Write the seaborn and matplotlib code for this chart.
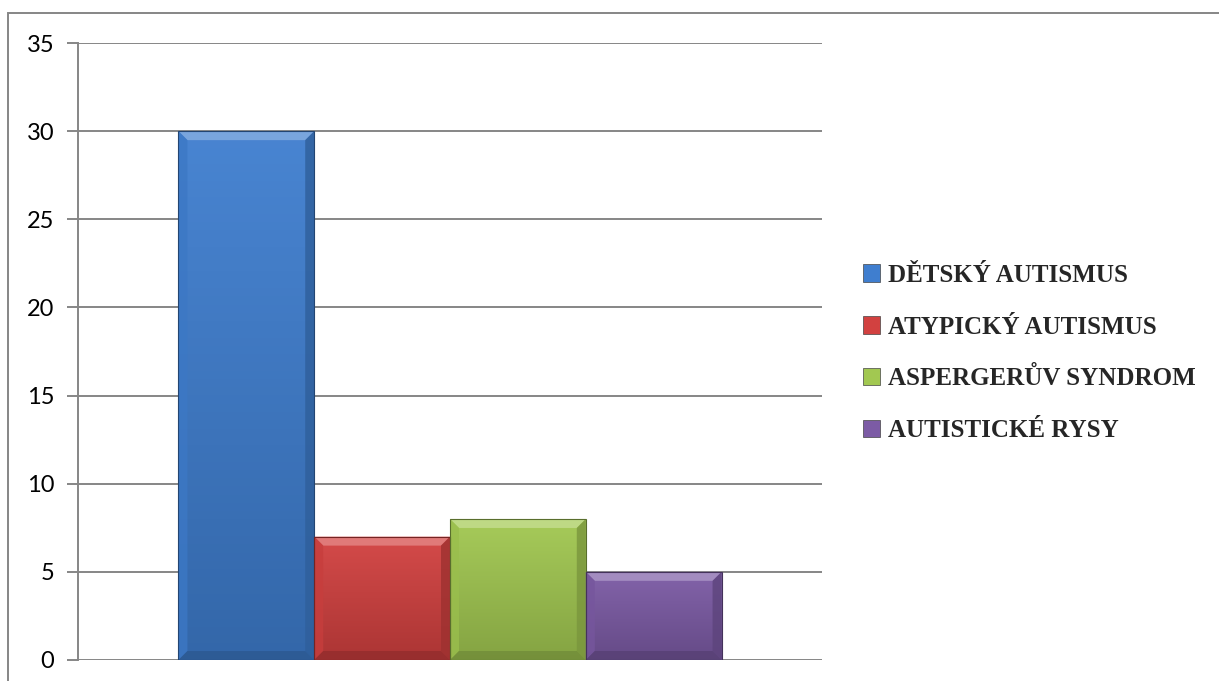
import numpy as np
import pandas as pd
import matplotlib
matplotlib.use("Agg")
import matplotlib.pyplot as plt
from matplotlib.patches import Rectangle, Polygon
from matplotlib.colors import to_rgb
import seaborn as sns

# Diagnoses and counts
diagnoses = ["DĚTSKÝ AUTISMUS", "ATYPICKÝ AUTISMUS", "ASPERGERŮV SYNDROM", "AUTISTICKÉ RYSY"]
counts = [30, 7, 8, 5]
colors = ["#3F7ECF", "#D24140", "#A2C851", "#7C5BA5"]
yticks = [0, 5, 10, 15, 20, 25, 30, 35]

df = pd.DataFrame({"group": [""] * len(diagnoses), "diagnoza": diagnoses, "pocet": counts})

sns.set_theme(style="white")
plt.rcParams["font.family"] = ["Lato", "DejaVu Sans"]

W, H = 1219, 681
fig = plt.figure(figsize=(W / 100, H / 100), dpi=100)
ax = fig.add_axes([78 / W, 1 - 660 / H, (822 - 78) / W, (660 - 43) / H])

sns.barplot(data=df, x="group", y="pocet", hue="diagnoza", hue_order=diagnoses,
            palette=colors, width=0.73, gap=0, saturation=1, edgecolor="none",
            linewidth=0, ax=ax, zorder=3)

ax.set_ylim(0, 35)
ax.set_xlim(-0.5, 0.5)
ax.set_yticks(yticks)
ax.set_yticklabels([str(t) for t in yticks], fontsize=17, color="black")
ax.set_xticks([])
ax.set_xlabel("")
ax.set_ylabel("")

grid_col = "#868686"
for t in yticks:
    ax.axhline(t, color=grid_col, lw=1.4, zorder=1)
for s in ["top", "right", "bottom"]:
    ax.spines[s].set_visible(False)
ax.spines["left"].set_color(grid_col)
ax.spines["left"].set_linewidth(1.4)
ax.tick_params(axis="y", which="major", left=True, length=8, width=1.4,
               color=grid_col, pad=9)

# Pixel-to-data conversion for the bevel widths
px_x = 1.0 / ((822 - 78))
px_y = 35.0 / (660 - 43)


def shade(c, f):
    r = np.array(to_rgb(c))
    if f >= 0:
        return tuple(r + (1 - r) * f)
    return tuple(r * (1 + f))


for patch, col in zip(ax.patches, colors):
    x0, y0 = patch.get_x(), patch.get_y()
    w, h = patch.get_width(), patch.get_height()
    if h <= 0:
        continue
    # vertical gradient fill
    top = np.array(shade(col, 0.05))
    bot = np.array(shade(col, -0.18))
    n = 64
    grad = np.linspace(0, 1, n)[:, None]
    img = (top[None, None, :] * (1 - grad[..., None]) + bot[None, None, :] * grad[..., None])
    img = np.repeat(img, 2, axis=1)
    im = ax.imshow(img, extent=[x0, x0 + w, y0, y0 + h], origin="upper",
                   aspect="auto", zorder=4)
    im.set_clip_path(patch)
    bx = 9 * px_x
    by = 9 * px_y
    x1, y1 = x0 + w, y0 + h
    # top bevel (light)
    ax.add_patch(Polygon([(x0, y1), (x1, y1), (x1 - bx, y1 - by), (x0 + bx, y1 - by)],
                         closed=True, facecolor=shade(col, 0.30), edgecolor="none", zorder=5))
    # left bevel
    ax.add_patch(Polygon([(x0, y0), (x0, y1), (x0 + bx, y1 - by), (x0 + bx, y0 + by)],
                         closed=True, facecolor=shade(col, -0.05), edgecolor="none", zorder=5, alpha=0.8))
    # right bevel (dark)
    ax.add_patch(Polygon([(x1, y0), (x1, y1), (x1 - bx, y1 - by), (x1 - bx, y0 + by)],
                         closed=True, facecolor=shade(col, -0.25), edgecolor="none", zorder=5, alpha=0.8))
    # bottom bevel (dark)
    ax.add_patch(Polygon([(x0, y0), (x1, y0), (x1 - bx, y0 + by), (x0 + bx, y0 + by)],
                         closed=True, facecolor=shade(col, -0.30), edgecolor="none", zorder=5, alpha=0.8))
    # thin dark outline
    ax.add_patch(Rectangle((x0, y0), w, h, facecolor="none",
                           edgecolor=shade(col, -0.45), lw=0.8, zorder=6))

# Legend on the right
handles, labels = ax.get_legend_handles_labels()
for hnd in handles:
    hnd.set_edgecolor("#444444")
    hnd.set_linewidth(0.5)
leg = fig.legend(handles, labels, loc="center left", bbox_to_anchor=(840 / W, 1 - 353 / H),
                 frameon=False, handlelength=0.7, handleheight=0.7, handletextpad=0.3,
                 labelspacing=1.15, prop={"family": "Liberation Serif", "weight": "bold", "size": 18})
if ax.get_legend() is not None:
    ax.get_legend().remove()

# Outer chart border
fig.patches.append(Rectangle((8 / W, -0.05), 1.2, 1 - 13 / H + 0.05, transform=fig.transFigure,
                             facecolor="none", edgecolor=grid_col, lw=1.4, zorder=0))

fig.savefig("out.png", dpi=100)
